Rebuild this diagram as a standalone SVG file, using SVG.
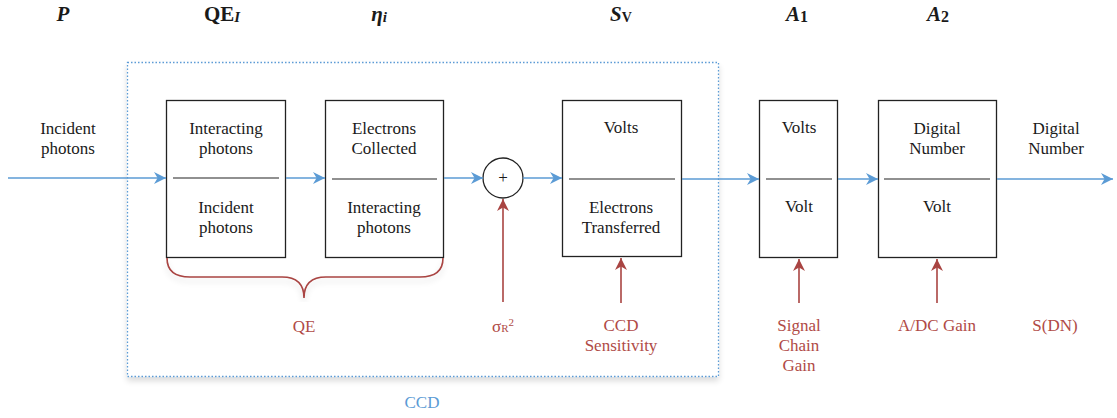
<svg xmlns="http://www.w3.org/2000/svg" width="1117" height="418" viewBox="0 0 1117 418">
<style>
text{font-family:"Liberation Serif","DejaVu Serif",serif;font-size:17px;text-anchor:middle;fill:#1a1a1a}
.t{font-size:21px;font-weight:bold;font-style:italic}
.r{fill:#b04a46}
.b{fill:#5b9bd5}
.box{fill:#fff;stroke:#222;stroke-width:1.3}
.div{stroke:#222;stroke-width:1.2}
.bl{stroke:#5b9bd5;stroke-width:1.6;fill:none}
.rl{stroke:#a94442;stroke-width:1.6;fill:none}
</style>
<defs>
<marker id="ab" markerWidth="12" markerHeight="12" refX="10" refY="5" orient="auto" markerUnits="userSpaceOnUse" viewBox="0 0 10 10"><path d="M0,0 L10,5 L0,10 L3,5 z" fill="#5b9bd5"/></marker>
<marker id="ar" markerWidth="12" markerHeight="12" refX="10" refY="5" orient="auto" markerUnits="userSpaceOnUse" viewBox="0 0 10 10"><path d="M0,0 L10,5 L0,10 L3,5 z" fill="#a94442"/></marker>
<filter id="sh" x="-5%" y="-5%" width="110%" height="115%"><feGaussianBlur in="SourceAlpha" stdDeviation="3"/><feOffset dx="0" dy="4"/><feComponentTransfer><feFuncA type="linear" slope="0.15"/></feComponentTransfer><feMerge><feMergeNode/><feMergeNode in="SourceGraphic"/></feMerge></filter>
</defs>
<g id="titles">
<text class="t" x="63" y="21">P</text>
<text class="t" x="222" y="21"><tspan font-style="normal">QE</tspan><tspan font-size="15" dy="1">I</tspan></text>
<text class="t" x="379" y="21">η<tspan font-size="15" dy="1">i</tspan></text>
<text class="t" x="621" y="21">S<tspan font-size="14" font-style="normal" dy="1">V</tspan></text>
<text class="t" x="797" y="21">A<tspan font-size="16" font-style="normal" dy="1">1</tspan></text>
<text class="t" x="938" y="21">A<tspan font-size="16" font-style="normal" dy="1">2</tspan></text>
</g>
<g id="ccd">
<rect x="127.5" y="62.5" width="591" height="314" fill="#fff" stroke="#5b9bd5" stroke-width="1.3" stroke-dasharray="1.5,2" filter="url(#sh)"/>
<text class="b" x="422" y="408">CCD</text>
</g>
<g id="input-label"><text x="68" y="134">Incident</text><text x="68" y="154">photons</text></g>
<g id="node-qe">
<rect class="box" x="166.5" y="100.5" width="119" height="157"/>
<line class="div" x1="173" y1="178" x2="279" y2="178"/>
<text x="226" y="134">Interacting</text><text x="226" y="154">photons</text>
<text x="226" y="213">Incident</text><text x="226" y="233">photons</text>
</g>
<g id="node-eta">
<rect class="box" x="325.5" y="100.5" width="118" height="157"/>
<line class="div" x1="332" y1="179" x2="437" y2="179"/>
<text x="384" y="134">Electrons</text><text x="384" y="154">Collected</text>
<text x="384" y="213">Interacting</text><text x="384" y="233">photons</text>
</g>
<g id="node-sum">
<circle cx="503" cy="178" r="20" fill="#fff" stroke="#222" stroke-width="1.3"/>
<text x="503" y="183" font-size="13">+</text>
</g>
<g id="node-sv">
<rect class="box" x="562.5" y="100.5" width="119" height="156"/>
<line class="div" x1="569" y1="179" x2="675" y2="179"/>
<text x="621" y="133">Volts</text>
<text x="621" y="213">Electrons</text><text x="621" y="233">Transferred</text>
</g>
<g id="node-a1">
<rect class="box" x="759.5" y="100.5" width="78" height="157"/>
<line class="div" x1="766" y1="179" x2="832" y2="179"/>
<text x="799" y="133">Volts</text>
<text x="799" y="212">Volt</text>
</g>
<g id="node-a2">
<rect class="box" x="878.5" y="100.5" width="118" height="157"/>
<line class="div" x1="884" y1="179" x2="990" y2="179"/>
<text x="937" y="134">Digital</text><text x="937" y="154">Number</text>
<text x="937" y="212">Volt</text>
</g>
<g id="output-label"><text x="1056" y="134">Digital</text><text x="1056" y="154">Number</text></g>
<g id="red-labels">
<text class="r" x="304" y="332">QE</text>
<text class="r" x="503" y="332" font-size="15">σ<tspan font-size="11">R</tspan><tspan font-size="11" dy="-6">2</tspan></text>
<text class="r" x="621" y="331">CCD</text><text class="r" x="621" y="351">Sensitivity</text>
<text class="r" x="799" y="331">Signal</text><text class="r" x="799" y="351">Chain</text><text class="r" x="799" y="371">Gain</text>
<text class="r" x="937" y="331">A/DC Gain</text>
<text class="r" x="1055" y="331">S(DN)</text>
</g>
<g id="connectors">
<line class="bl" x1="8" y1="178" x2="166" y2="178" marker-end="url(#ab)"/>
<line class="bl" x1="286" y1="178" x2="325" y2="178" marker-end="url(#ab)"/>
<line class="bl" x1="444" y1="178" x2="483" y2="178" marker-end="url(#ab)"/>
<line class="bl" x1="523" y1="178" x2="562" y2="178" marker-end="url(#ab)"/>
<line class="bl" x1="682" y1="179" x2="759" y2="179" marker-end="url(#ab)"/>
<line class="bl" x1="838" y1="179" x2="878" y2="179" marker-end="url(#ab)"/>
<line class="bl" x1="997" y1="179" x2="1113" y2="179" marker-end="url(#ab)"/>
<line class="rl" x1="503" y1="302" x2="503" y2="199" marker-end="url(#ar)"/>
<line class="rl" x1="621" y1="303" x2="621" y2="258" marker-end="url(#ar)"/>
<line class="rl" x1="799" y1="303" x2="799" y2="259" marker-end="url(#ar)"/>
<line class="rl" x1="937" y1="303" x2="937" y2="259" marker-end="url(#ar)"/>
<path class="rl" d="M167,258 Q167,277 190,277 L282,277 Q304,277 304,298 Q304,277 326,277 L420,277 Q443,277 443,258" filter="url(#sh)"/>
</g>
</svg>
